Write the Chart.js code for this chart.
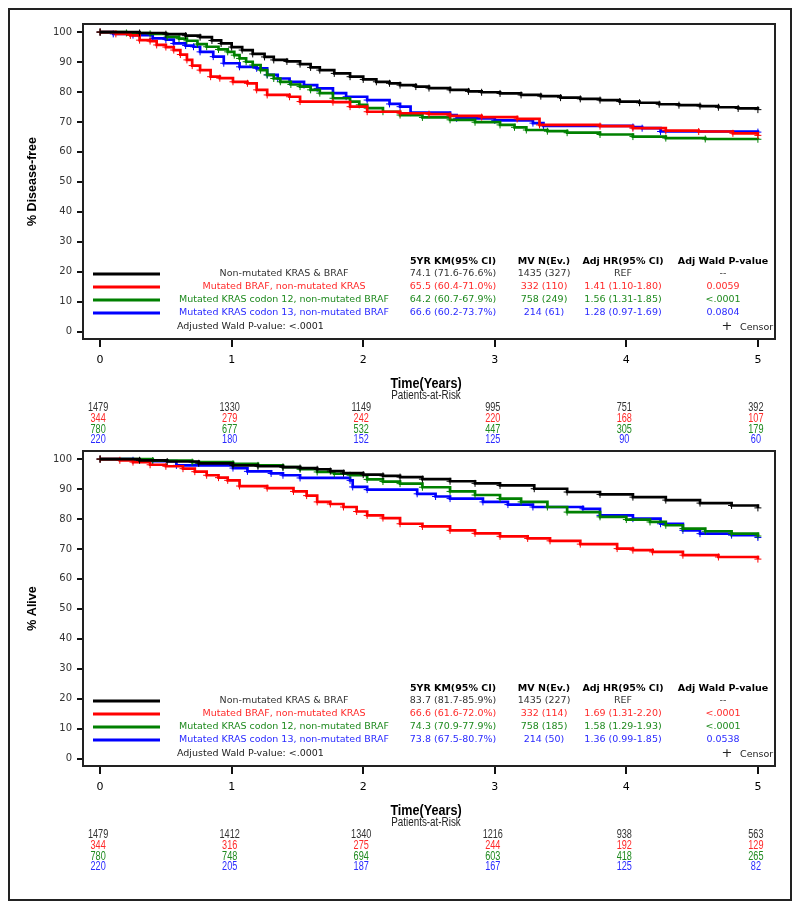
<!DOCTYPE html>
<html>
<head>
<meta charset="utf-8">
<script src="https://cdn.jsdelivr.net/npm/chart.js@4.4.0/dist/chart.umd.min.js"></script>
<style>
  body { margin: 0; background: #fff; }
  #page { position: relative; width: 800px; height: 910px; background: #fff; }
  #frame { position: absolute; left: 8px; top: 8px; width: 784px; height: 893px; border: 2px solid #222; box-sizing: border-box; }
  #c1 { position: absolute; left: 0; top: 0; }
  #c2 { position: absolute; left: 0; top: 440px; }
</style>
</head>
<body>
<div id="page">
  <div id="frame"></div>
  <canvas id="c1" width="800" height="450"></canvas>
  <canvas id="c2" width="800" height="470"></canvas>
</div>
<script>
// axis ticks
const years = [0, 1, 2, 3, 4, 5];
const pctTicks = [0, 10, 20, 30, 40, 50, 60, 70, 80, 90, 100];

// groups
const groupNames = ['Non-mutated KRAS & BRAF', 'Mutated BRAF, non-mutated KRAS',
  'Mutated KRAS codon 12, non-mutated BRAF', 'Mutated KRAS codon 13, non-mutated BRAF'];
const lineColors = ['#000000', '#ff0000', '#008000', '#0000ff'];
const textColors = ['#333333', '#ff2a2a', '#1f8a1f', '#2a2aff'];
const tableHeads = ['5YR KM(95% CI)', 'MV N(Ev.)', 'Adj HR(95% CI)', 'Adj Wald P-value'];

// ---- disease-free survival (top) ----
const dfsNonT = [0, 0.3, 0.5, 0.65, 0.76, 0.85, 0.92, 1.0, 1.08, 1.16, 1.25, 1.32, 1.42, 1.52, 1.6, 1.67, 1.78, 1.9, 2.0, 2.1, 2.2, 2.28, 2.4, 2.5, 2.66, 2.8, 2.9, 3.04, 3.2, 3.35, 3.5, 3.65, 3.8, 3.95, 4.1, 4.25, 4.4, 4.56, 4.7, 4.85, 5.0];
const dfsNonS = [100, 99.7, 99.3, 98.8, 98.3, 97.2, 96.2, 95.0, 94.0, 92.7, 91.7, 90.7, 90.2, 89.3, 88.2, 87.3, 86.2, 85.1, 84.2, 83.4, 82.9, 82.3, 81.8, 81.3, 80.7, 80.2, 79.9, 79.5, 79.0, 78.6, 78.1, 77.7, 77.3, 76.8, 76.4, 75.9, 75.6, 75.3, 74.9, 74.5, 74.1];
const dfsBrafT = [0, 0.12, 0.23, 0.3, 0.38, 0.43, 0.5, 0.56, 0.61, 0.66, 0.7, 0.76, 0.84, 0.91, 1.01, 1.12, 1.19, 1.27, 1.44, 1.52, 1.77, 1.9, 2.03, 2.28, 2.5, 2.66, 2.9, 3.17, 3.34, 3.8, 4.05, 4.3, 4.55, 4.81, 5.0];
const dfsBrafS = [100, 99.4, 98.9, 97.3, 97.0, 95.7, 95.0, 94.0, 92.5, 90.7, 88.8, 87.3, 85.1, 84.6, 83.4, 82.9, 80.7, 79.0, 78.4, 76.8, 76.6, 75.1, 73.4, 72.9, 72.6, 72.0, 71.6, 71.0, 69.0, 68.6, 67.9, 67.1, 66.8, 66.2, 65.5];
const dfsK12T = [0, 0.2, 0.38, 0.51, 0.6, 0.66, 0.74, 0.81, 0.9, 0.97, 1.02, 1.06, 1.11, 1.16, 1.22, 1.27, 1.32, 1.37, 1.45, 1.52, 1.6, 1.67, 1.77, 1.9, 1.97, 2.03, 2.15, 2.28, 2.45, 2.66, 2.85, 3.04, 3.15, 3.24, 3.4, 3.55, 3.8, 4.05, 4.3, 4.6, 5.0];
const dfsK12S = [100, 99.7, 99.4, 98.4, 97.8, 97.1, 96.0, 95.1, 94.2, 93.4, 92.3, 91.2, 90.1, 89.0, 87.3, 85.7, 84.5, 83.4, 82.5, 81.8, 80.7, 79.6, 77.9, 76.8, 75.7, 74.6, 73.4, 72.3, 71.5, 70.7, 69.9, 69.0, 68.2, 67.3, 66.9, 66.4, 65.8, 65.1, 64.6, 64.3, 64.2];
const dfsK13T = [0, 0.1, 0.25, 0.4, 0.5, 0.56, 0.65, 0.71, 0.76, 0.86, 0.94, 1.06, 1.19, 1.27, 1.35, 1.44, 1.55, 1.65, 1.77, 1.87, 2.03, 2.2, 2.28, 2.36, 2.66, 2.71, 3.0, 3.29, 3.37, 4.05, 4.12, 4.26, 5.0];
const dfsK13S = [100, 99.4, 99.0, 97.9, 97.5, 96.2, 95.5, 95.1, 93.4, 91.8, 89.6, 88.4, 87.9, 85.7, 84.5, 83.4, 82.3, 81.2, 79.6, 78.4, 77.3, 76.0, 75.1, 73.1, 72.3, 71.2, 70.5, 69.6, 68.7, 68.3, 67.9, 66.8, 66.6];

const dfsKm = ['74.1 (71.6-76.6%)', '65.5 (60.4-71.0%)', '64.2 (60.7-67.9%)', '66.6 (60.2-73.7%)'];
const dfsN = ['1435 (327)', '332 (110)', '758 (249)', '214 (61)'];
const dfsHr = ['REF', '1.41 (1.10-1.80)', '1.56 (1.31-1.85)', '1.28 (0.97-1.69)'];
const dfsP = ['--', '0.0059', '<.0001', '0.0804'];
const dfsRiskNon = [1479, 1330, 1149, 995, 751, 392];
const dfsRiskBraf = [344, 279, 242, 220, 168, 107];
const dfsRiskK12 = [780, 677, 532, 447, 305, 179];
const dfsRiskK13 = [220, 180, 152, 125, 90, 60];

// ---- overall survival (bottom) ----
const osNonT = [0, 0.3, 0.51, 0.75, 1.01, 1.2, 1.39, 1.52, 1.65, 1.75, 1.85, 2.0, 2.15, 2.28, 2.45, 2.66, 2.85, 3.04, 3.3, 3.55, 3.8, 4.05, 4.3, 4.56, 4.8, 5.0];
const osNonS = [100, 99.6, 99.2, 98.6, 97.9, 97.6, 97.3, 97.0, 96.6, 96.0, 95.3, 94.8, 94.4, 94.0, 93.3, 92.6, 91.9, 91.2, 90.1, 89.0, 88.2, 87.3, 86.3, 85.3, 84.5, 83.7];
const osBrafT = [0, 0.15, 0.25, 0.38, 0.5, 0.63, 0.72, 0.81, 0.9, 0.97, 1.06, 1.27, 1.47, 1.57, 1.65, 1.75, 1.85, 1.95, 2.03, 2.15, 2.28, 2.45, 2.66, 2.85, 3.04, 3.25, 3.42, 3.65, 3.93, 4.05, 4.2, 4.43, 4.7, 5.0];
const osBrafS = [100, 99.6, 99.0, 98.1, 97.6, 96.8, 95.8, 94.6, 93.8, 92.9, 91.0, 90.3, 89.2, 87.8, 85.7, 85.0, 84.0, 82.5, 81.2, 80.3, 78.4, 77.5, 76.2, 75.2, 74.2, 73.5, 72.7, 71.6, 70.1, 69.6, 69.0, 67.9, 67.3, 66.6];
const osK12T = [0, 0.4, 0.7, 1.01, 1.2, 1.39, 1.52, 1.65, 1.78, 1.9, 2.03, 2.15, 2.28, 2.45, 2.66, 2.85, 3.04, 3.2, 3.4, 3.55, 3.8, 4.0, 4.18, 4.3, 4.43, 4.6, 4.8, 5.0];
const osK12S = [100, 99.5, 99.0, 98.4, 97.9, 97.3, 96.6, 95.7, 95.1, 94.6, 93.2, 92.5, 91.8, 90.6, 89.2, 88.0, 86.8, 85.7, 84.0, 82.3, 80.7, 79.8, 79.0, 77.9, 76.8, 75.9, 75.1, 74.3];
const osK13T = [0, 0.25, 0.4, 0.58, 1.01, 1.12, 1.3, 1.39, 1.52, 1.9, 1.92, 2.03, 2.41, 2.55, 2.66, 2.91, 3.1, 3.29, 3.67, 3.8, 4.05, 4.26, 4.43, 4.56, 4.8, 5.0];
const osK13S = [100, 99.6, 99.3, 97.9, 97.0, 95.9, 95.2, 94.6, 93.7, 92.9, 90.7, 89.8, 88.4, 87.5, 86.8, 85.7, 84.8, 84.0, 83.4, 81.2, 80.1, 78.4, 76.2, 75.1, 74.6, 73.8];

const osKm = ['83.7 (81.7-85.9%)', '66.6 (61.6-72.0%)', '74.3 (70.9-77.9%)', '73.8 (67.5-80.7%)'];
const osN = ['1435 (227)', '332 (114)', '758 (185)', '214 (50)'];
const osHr = ['REF', '1.69 (1.31-2.20)', '1.58 (1.29-1.93)', '1.36 (0.99-1.85)'];
const osP = ['--', '<.0001', '<.0001', '0.0538'];
const osRiskNon = [1479, 1412, 1340, 1216, 938, 563];
const osRiskBraf = [344, 316, 275, 244, 192, 129];
const osRiskK12 = [780, 748, 694, 603, 418, 265];
const osRiskK13 = [220, 205, 187, 167, 125, 82];

function toPoints(t, s) {
  return t.map((x, i) => ({ x: x, y: s[i] }));
}

// condensed text: the original uses a narrow face
function narrowText(ctx, text, x, y, squeeze) {
  ctx.save();
  ctx.translate(x, y);
  ctx.scale(squeeze, 1);
  ctx.fillText(text, 0, 0);
  ctx.restore();
}

const kmDecor = {
  id: 'kmDecor',
  afterDraw(chart, args, o) {
    const ctx = chart.ctx;
    const a = chart.chartArea;
    const xs = chart.scales.x;
    ctx.save();
    // plot box
    ctx.strokeStyle = '#222';
    ctx.lineWidth = 2;
    ctx.strokeRect(a.left, a.top, a.right - a.left, a.bottom - a.top);

    // y title
    ctx.save();
    ctx.translate(33, (a.top + a.bottom) / 2);
    ctx.rotate(-Math.PI / 2);
    ctx.fillStyle = '#000';
    ctx.font = 'bold 12.5px "Liberation Sans", Arial, sans-serif';
    ctx.textAlign = 'center';
    ctx.textBaseline = 'middle';
    ctx.fillText(o.yTitle, 0, 0);
    ctx.restore();

    // legend + table inside plot
    const b = a.bottom;
    ctx.textBaseline = 'middle';
    ctx.font = 'bold 9.5px "DejaVu Sans", sans-serif';
    ctx.fillStyle = '#000';
    ctx.textAlign = 'center';
    const colX = [453, 544, 623, 723];
    tableHeads.forEach((h, j) => ctx.fillText(h, colX[j], b - 77));
    ctx.font = '9.5px "DejaVu Sans", sans-serif';
    for (let i = 0; i < 4; i++) {
      const y = b - 65 + i * 13;
      ctx.strokeStyle = lineColors[i];
      ctx.lineWidth = 3;
      ctx.beginPath();
      ctx.moveTo(a.left + 10, y);
      ctx.lineTo(a.left + 77, y);
      ctx.stroke();
      ctx.fillStyle = textColors[i];
      ctx.textAlign = 'center';
      ctx.fillText(groupNames[i], a.left + 201, y);
      ctx.fillText(o.km[i], colX[0], y);
      ctx.fillText(o.n[i], colX[1], y);
      ctx.fillText(o.hr[i], colX[2], y);
      ctx.fillText(o.p[i], colX[3], y);
    }
    ctx.fillStyle = '#222';
    ctx.textAlign = 'left';
    ctx.fillText('Adjusted Wald P-value: <.0001', 177, b - 12);
    ctx.fillText('Censor', 740, b - 11);
    ctx.font = '13px "DejaVu Sans", sans-serif';
    ctx.textAlign = 'center';
    ctx.fillText('+', 727, b - 12);

    // x title + patients at risk
    ctx.fillStyle = '#000';
    ctx.font = 'bold 15px "Liberation Sans", Arial, sans-serif';
    narrowText(ctx, 'Time(Years)', 426, b + 45, 0.84);
    ctx.font = '12px "Liberation Sans", Arial, sans-serif';
    ctx.fillStyle = '#222';
    narrowText(ctx, 'Patients-at-Risk', 426, b + 57, 0.82);
    o.risk.forEach((row, i) => {
      ctx.fillStyle = textColors[i];
      row.forEach((v, j) => {
        narrowText(ctx, String(v), xs.getPixelForValue(years[j]) - 2, b + 69 + i * 10.7, 0.76);
      });
    });
    ctx.restore();
  }
};

function makeChart(id, curves, topPad, xAxisH, opts) {
  const datasets = curves.map((c, i) => ({
    data: toPoints(c[0], c[1]),
    stepped: true,
    borderColor: lineColors[i],
    backgroundColor: lineColors[i],
    borderWidth: 2.7,
    pointStyle: 'cross',
    pointRadius: 3.5,
    pointBorderWidth: 1,
    fill: false
  }));
  return new Chart(document.getElementById(id).getContext('2d'), {
    type: 'line',
    data: { datasets: datasets },
    options: {
      responsive: false,
      animation: false,
      layout: { padding: { left: 0, right: 25, top: topPad, bottom: 0 } },
      plugins: { legend: { display: false }, tooltip: { enabled: false }, kmDecor: opts },
      scales: {
        x: {
          type: 'linear', min: -0.13, max: 5.13,
          afterBuildTicks: s => { s.ticks = years.map(v => ({ value: v })); },
          afterFit: s => { s.height = xAxisH; },
          grid: { drawOnChartArea: false, drawTicks: true, tickLength: 8, color: '#111', lineWidth: 2 },
          border: { display: false },
          ticks: { color: '#000', font: { family: 'DejaVu Sans', size: 11 }, padding: 7, maxRotation: 0 }
        },
        y: {
          min: -2.5, max: 102.7,
          afterBuildTicks: s => { s.ticks = pctTicks.map(v => ({ value: v })); },
          afterFit: s => { s.width = 83; },
          grid: { drawOnChartArea: false, drawTicks: true, tickLength: 6, color: '#111', lineWidth: 2 },
          border: { display: false },
          ticks: { color: '#333', font: { family: 'DejaVu Sans', size: 10 }, padding: 5 }
        }
      }
    },
    plugins: [kmDecor]
  });
}

makeChart('c1', [[dfsNonT, dfsNonS], [dfsBrafT, dfsBrafS], [dfsK12T, dfsK12S], [dfsK13T, dfsK13S]], 24, 111, {
  yTitle: '% Disease-free', km: dfsKm, n: dfsN, hr: dfsHr, p: dfsP,
  risk: [dfsRiskNon, dfsRiskBraf, dfsRiskK12, dfsRiskK13]
});
makeChart('c2', [[osNonT, osNonS], [osBrafT, osBrafS], [osK12T, osK12S], [osK13T, osK13S]], 9, 144, {
  yTitle: '% Alive', km: osKm, n: osN, hr: osHr, p: osP,
  risk: [osRiskNon, osRiskBraf, osRiskK12, osRiskK13]
});
</script>
</body>
</html>
